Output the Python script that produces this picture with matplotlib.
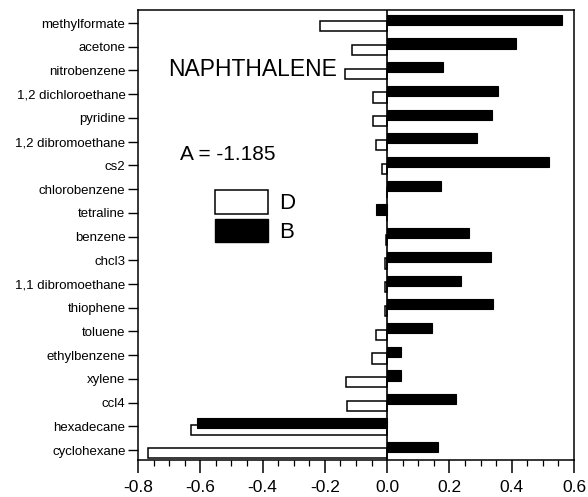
import numpy as np
import matplotlib.pyplot as plt
from matplotlib.patches import Patch
from matplotlib.ticker import MultipleLocator, FuncFormatter

solvents = ['methylformate', 'acetone', 'nitrobenzene', '1,2 dichloroethane',
            'pyridine', '1,2 dibromoethane', 'cs2', 'chlorobenzene', 'tetraline',
            'benzene', 'chcl3', '1,1 dibromoethane', 'thiophene', 'toluene',
            'ethylbenzene', 'xylene', 'ccl4', 'hexadecane', 'cyclohexane']
D = [-0.215, -0.113, -0.135, -0.044, -0.044, -0.035, -0.016, 0.0, 0.0,
     -0.004, -0.006, -0.006, -0.006, -0.036, -0.049, -0.132, -0.129, -0.629, -0.769]
B = [0.561, 0.415, 0.179, 0.355, 0.337, 0.288, 0.521, 0.173, -0.036,
     0.264, 0.333, 0.237, 0.341, 0.144, 0.043, 0.046, 0.220, -0.611, 0.163]

plt.rc('font', family='Liberation Sans')
fig = plt.figure(figsize=(5.88, 4.97), dpi=100)
ax = fig.add_axes([0.2347, 0.0744, 0.7415, 0.9055])

y = np.arange(len(solvents))
h = 0.43
ax.barh(y + 0.14, D, height=h, color='white', edgecolor='black', linewidth=1.1, zorder=2)
ax.barh(y - 0.14, B, height=h, color='black', edgecolor='black', linewidth=0.8, zorder=3)
ax.axvline(0, color='black', linewidth=1.2, zorder=4)

ax.set_xlim(-0.8, 0.6)
ax.set_ylim(len(solvents) - 1 + 0.42, -0.55)
ax.set_yticks(y)
ax.set_yticklabels(solvents, fontsize=9.5)
ax.xaxis.set_major_locator(MultipleLocator(0.2))
ax.xaxis.set_minor_locator(MultipleLocator(0.05))
ax.xaxis.set_major_formatter(FuncFormatter(lambda v, p: '%.1f' % (round(v, 1) + 0.0)))
ax.tick_params(axis='x', which='major', length=9.5, width=1.1, pad=5, labelsize=12.5)
ax.tick_params(axis='x', which='minor', length=4.3, width=0.9)
ax.tick_params(axis='y', length=7, width=1.0, pad=2)
for s in ax.spines.values():
    s.set_linewidth(1.1)

ax.text(0.069, 0.867, 'NAPHTHALENE', transform=ax.transAxes, fontsize=16.5, va='center')
ax.text(0.096, 0.68, 'A = -1.185', transform=ax.transAxes, fontsize=15, va='center')

handles = [Patch(facecolor='white', edgecolor='black', linewidth=1.1, label='D'),
           Patch(facecolor='black', edgecolor='black', label='B')]
ax.legend(handles=handles, loc='upper left', bbox_to_anchor=(0.177, 0.6),
          frameon=False, fontsize=16, handlelength=2.36, handleheight=1.25,
          labelspacing=0.2, handletextpad=0.5, borderpad=0, borderaxespad=0)

fig.savefig('out.png', dpi=100)
